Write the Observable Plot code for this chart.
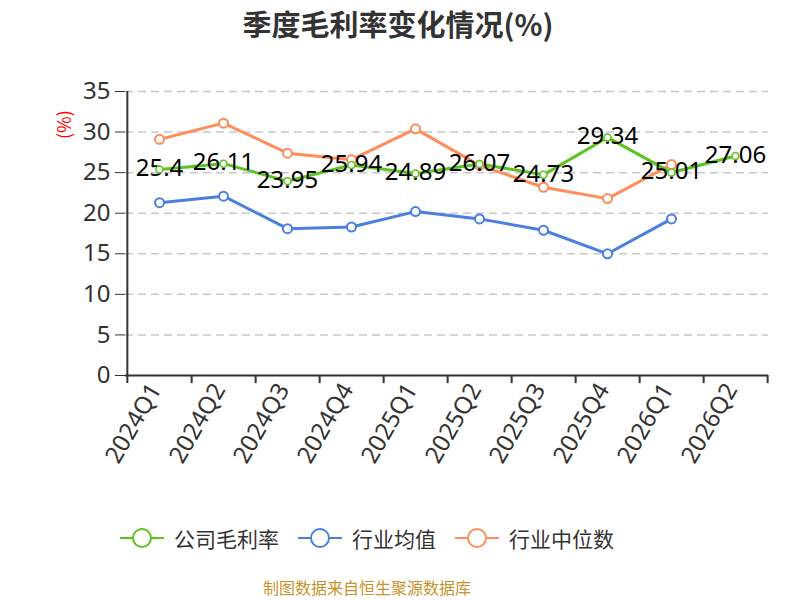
<!DOCTYPE html>
<html><head><meta charset="utf-8">
<script src="https://cdn.jsdelivr.net/npm/d3@7"></script>
<script src="https://cdn.jsdelivr.net/npm/@observablehq/plot@0.6"></script>
<style>
body{margin:0;width:800px;height:600px;position:relative;background:#fff;font-family:"Noto Sans","Noto Sans CJK SC",sans-serif;overflow:hidden}
#title{position:absolute;top:2px;left:0;width:796px;text-align:center;font-size:29px;font-weight:bold;color:#333;font-family:"Noto Sans CJK SC",sans-serif;line-height:42px}
#chart{position:absolute;top:0;left:0}
#ylab{position:absolute;left:49px;top:114px;width:28px;height:22px;line-height:22px;text-align:center;font-size:18px;color:#f00;transform:rotate(-90deg);font-family:"Noto Sans CJK SC",sans-serif}
.item{position:absolute;top:524px;height:28px;display:flex;align-items:center}
.item span{margin-left:10px;font-size:21px;color:#333;font-family:"Noto Sans CJK SC",sans-serif;white-space:nowrap}
#caption{position:absolute;top:575px;left:263px;font-size:16px;color:#c8922b;line-height:24px;font-family:"Noto Sans CJK SC",sans-serif;white-space:nowrap}
</style></head>
<body>
<div id="title">季度毛利率变化情况(%)</div>
<div id="chart"></div>
<div id="ylab">(%)</div>
<div id="legend"></div>
<div id="caption">制图数据来自恒生聚源数据库</div>
<script>
const quarters = ["2024Q1","2024Q2","2024Q3","2024Q4","2025Q1","2025Q2","2025Q3","2025Q4","2026Q1","2026Q2"];
const company = [25.4, 26.11, 23.95, 25.94, 24.89, 26.07, 24.73, 29.34, 25.01, 27.06];
const industryMean = [21.3, 22.1, 18.1, 18.3, 20.2, 19.3, 17.9, 15.0, 19.3, null];
const industryMedian = [29.1, 31.1, 27.4, 26.6, 30.4, 25.9, 23.2, 21.8, 26.0, null];
const yTicks = [0, 5, 10, 15, 20, 25, 30, 35];
const seriesNames = ["公司毛利率", "行业均值", "行业中位数"];
const colors = ["#5ac31f", "#4a7fe2", "#ff8c5a"];

const toRows = (vals) => quarters.map((q, i) => ({q, v: vals[i]})).filter(d => d.v != null);
const rowsC = toRows(company), rowsM = toRows(industryMean), rowsD = toRows(industryMedian);

const W = 800, H = 480, mL = 125, mR = 32, mT = 91, mB = 105;
const bw = (W - mL - mR) / quarters.length;
const font = '"Noto Sans","Noto Sans CJK SC",sans-serif';

const chart = Plot.plot({
  width: W, height: H, marginLeft: mL, marginRight: mR, marginTop: mT, marginBottom: mB,
  style: {fontFamily: font, background: "transparent"},
  x: {type: "band", domain: quarters, padding: 0},
  y: {domain: [0, 35]},
  marks: [
    Plot.gridY(yTicks.filter(t => t > 0), {stroke: "#c8c8c8", strokeOpacity: 1, strokeDasharray: "8,5", strokeWidth: 1.5}),
    Plot.axisY(yTicks, {tickSize: 10, fontSize: 24, color: "#333", tickPadding: 5, label: null}),
    Plot.axisX({tickSize: 0, tickRotate: -60, fontSize: 24, color: "#333", tickPadding: 10, dx: -4, label: null}),
    Plot.ruleY([0], {stroke: "#333", strokeWidth: 2}),
    Plot.ruleX([quarters[0]], {dx: -bw / 2, y1: -1, y2: 35, stroke: "#333", strokeWidth: 2}),
    Plot.ruleX(quarters, {dx: bw / 2, y1: -1, y2: 0, stroke: "#333", strokeWidth: 2}),
    Plot.line(rowsD, {x: "q", y: "v", stroke: colors[2], strokeWidth: 3}),
    Plot.line(rowsM, {x: "q", y: "v", stroke: colors[1], strokeWidth: 3}),
    Plot.line(rowsC, {x: "q", y: "v", stroke: colors[0], strokeWidth: 3}),
    Plot.dot(rowsD, {x: "q", y: "v", r: 4.5, fill: "#fff", stroke: colors[2], strokeWidth: 2}),
    Plot.dot(rowsM, {x: "q", y: "v", r: 4.5, fill: "#fff", stroke: colors[1], strokeWidth: 2}),
    Plot.text(rowsC, {x: "q", y: "v", text: d => String(d.v), fontSize: 24, fill: "#000", dy: -1}),
    Plot.dot(rowsC, {x: "q", y: "v", r: 3.5, fill: "#fff", stroke: colors[0], strokeWidth: 1.5})
  ]
});
document.getElementById("chart").appendChild(chart);

const legend = document.getElementById("legend");
const legendLeft = [120, 298, 455];
seriesNames.forEach((name, i) => {
  const item = document.createElement("div");
  item.className = "item";
  item.style.left = legendLeft[i] + "px";
  item.innerHTML = `<svg width="44" height="24"><line x1="0" y1="12" x2="44" y2="12" stroke="${colors[i]}" stroke-width="2"/><circle cx="22" cy="12" r="9" fill="#fff" stroke="${colors[i]}" stroke-width="2"/></svg><span>${name}</span>`;
  legend.appendChild(item);
});
</script>
</body></html>
